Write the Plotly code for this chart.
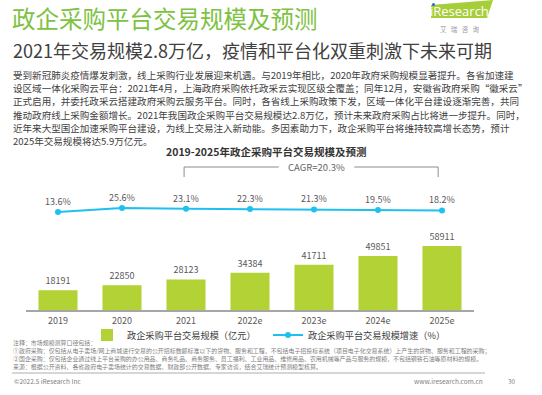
import plotly.graph_objects as go

W, H = 542, 395

# ---------------- data ----------------
years = ["2019", "2020", "2021", "2022e", "2023e", "2024e", "2025e"]
scale_values = [18191, 22850, 28123, 34384, 41711, 49851, 58911]
growth_rates = [13.6, 25.6, 23.1, 22.3, 21.3, 19.5, 18.2]
bar_name = "政企采购平台交易规模（亿元）"
line_name = "政企采购平台交易规模增速（%）"
cagr_text = "CAGR=20.3%"

title_text = "政企采购平台交易规模及预测"
subtitle_text = "2021年交易规模2.8万亿，疫情和平台化双重刺激下未来可期"
chart_title = "2019-2025年政企采购平台交易规模及预测"
body_lines = [
    "受到新冠肺炎疫情爆发刺激，线上采购行业发展迎来机遇。与2019年相比，2020年政府采购规模显著提升。各省加速建",
    "设区域一体化采购云平台：2021年4月，上海政府采购依托政采云实现区级全覆盖；同年12月，安徽省政府采购“徽采云”",
    "正式启用，并委托政采云搭建政府采购云服务平台。同时，各省线上采购政策下发，区域一体化平台建设逐渐完善，共同",
    "推动政府线上采购金额增长。2021年我国政企采购平台交易规模达2.8万亿，预计未来政府采购占比将进一步提升。同时，",
    "近年来大型国企加速采购平台建设，为线上交易注入新动能。多因素助力下，政企采购平台将维持较高增长态势，预计",
    "2025年交易规模将达5.9万亿元。",
]
note_lines = [
    "注释：市场规模测算口径包括：",
    "①政府采购：仅包括从电子卖场/网上商城进行交易的公开招标数额标准以下的货物、服务和工程，不包括电子招投标系统（项目电子化交易系统）上产生的货物、服务和工程的采购；",
    "②国企采购：仅包括企业通过线上平台采购的办公用品、商务礼品、商务服务、员工福利、工业用品、维修用品、农用机械等产品与服务的规模，不包括钢铁石油等原材料的规模。",
    "来源：根据公开资料、各省政府电子卖场统计的交易数据、财政部公开数据、专家访谈，结合艾瑞统计预测模型核算。",
]
footer_left = "©2022.5 iResearch Inc"
footer_right = "www.iresearch.com.cn"
page_no = "30"

FONT = "Noto Sans CJK SC, Noto Sans, sans-serif"
GREEN_TITLE = "#7dc242"
BAR_GREEN = "#b2d235"
LINE_BLUE = "#1fc0ef"


def px(x):
    return x / W


def py(y):
    return 1 - y / H


fig = go.Figure()

fig.add_trace(go.Bar(
    x=years, y=scale_values, name=bar_name,
    marker=dict(color=BAR_GREEN, line=dict(width=0)),
    text=[str(v) for v in scale_values], textposition="outside",
    textfont=dict(size=9, color="#595959", family=FONT),
    cliponaxis=False, yaxis="y",
))
fig.add_trace(go.Scatter(
    x=years, y=growth_rates, name=line_name, yaxis="y2",
    mode="lines+markers+text",
    line=dict(color=LINE_BLUE, width=2),
    marker=dict(color=LINE_BLUE, size=6),
    text=[f"{v}%" for v in growth_rates], textposition="top center",
    textfont=dict(size=9, color="#595959", family=FONT),
    cliponaxis=False,
))

annotations = []
shapes = []

# Title / subtitle
annotations.append(dict(x=px(10), y=py(18), xref="paper", yref="paper", xanchor="left", yanchor="middle",
                        text=title_text, showarrow=False,
                        font=dict(size=23.5, color=GREEN_TITLE, family=FONT)))
annotations.append(dict(x=px(11), y=py(50), xref="paper", yref="paper", xanchor="left", yanchor="middle",
                        text=subtitle_text, showarrow=False,
                        font=dict(size=18, color="#404040", family=FONT)))

# Body text
for i, line in enumerate(body_lines):
    annotations.append(dict(x=px(11), y=py(75 + i * 13.2), xref="paper", yref="paper",
                            xanchor="left", yanchor="middle", text=line, showarrow=False,
                            font=dict(size=9.55, color="#404040", family=FONT)))

# Chart title
annotations.append(dict(x=px(266), y=py(151), xref="paper", yref="paper", xanchor="center", yanchor="middle",
                        text=f"<b>{chart_title}</b>", showarrow=False,
                        font=dict(size=10.5, color="#333333", family=FONT)))

# CAGR bracket
bk = dict(type="line", xref="x", yref="paper", line=dict(color="#8c8c8c", width=1))
shapes.append(dict(bk, x0=1.97, x1=3.45, y0=py(167), y1=py(167)))
shapes.append(dict(bk, x0=4.63, x1=5.94, y0=py(167), y1=py(167)))
shapes.append(dict(bk, x0=1.97, x1=1.97, y0=py(167), y1=py(177)))
shapes.append(dict(bk, x0=5.94, x1=5.94, y0=py(167), y1=py(177)))
annotations.append(dict(x=4.04, y=py(167), xref="x", yref="paper", xanchor="center", yanchor="middle",
                        text=cagr_text, showarrow=False,
                        font=dict(size=9.5, color="#666666", family=FONT)))

# Logo
shapes.append(dict(type="path", xref="paper", yref="paper",
                   path=f"M {px(431)} {py(18)} L {px(431)} {py(5)} L {px(493)} {py(0)} L {px(487)} {py(18)} Z",
                   fillcolor="#a6ce39", line=dict(width=0)))
shapes.append(dict(type="circle", xref="paper", yref="paper",
                   x0=px(432), x1=px(435), y0=py(6), y1=py(3), fillcolor="#1e6fc0", line=dict(width=0)))
annotations.append(dict(x=px(459), y=py(11), xref="paper", yref="paper", xanchor="center", yanchor="middle",
                        text="iResearch", showarrow=False,
                        font=dict(size=13, color="white", family="Open Sans, sans-serif")))
annotations.append(dict(x=px(460), y=py(29), xref="paper", yref="paper", xanchor="center", yanchor="middle",
                        text="艾 &nbsp; 瑞 &nbsp; 咨 &nbsp; 询", showarrow=False,
                        font=dict(size=6.5, color="#9a9a9a", family=FONT)))

# Notes
for i, line in enumerate(note_lines):
    annotations.append(dict(x=px(11), y=py(342 + i * 8.2), xref="paper", yref="paper",
                            xanchor="left", yanchor="middle", text=line, showarrow=False,
                            font=dict(size=5.95, color="#808080", family=FONT)))

# Footer
shapes.append(dict(type="line", xref="paper", yref="paper", x0=px(12), x1=px(485), y0=py(373), y1=py(373),
                   line=dict(color="#c8c8c8", width=1.5)))
annotations.append(dict(x=px(12), y=py(381), xref="paper", yref="paper", xanchor="left", yanchor="middle",
                        text=footer_left, showarrow=False, font=dict(size=6.5, color="#808080", family=FONT)))
annotations.append(dict(x=px(485), y=py(381), xref="paper", yref="paper", xanchor="right", yanchor="middle",
                        text=footer_right, showarrow=False, font=dict(size=6.5, color="#808080", family=FONT)))
annotations.append(dict(x=px(512), y=py(381), xref="paper", yref="paper", xanchor="center", yanchor="middle",
                        text=page_no, showarrow=False, font=dict(size=6.5, color="#808080", family=FONT)))

fig.update_layout(
    width=W, height=H,
    margin=dict(l=0, r=0, t=0, b=0),
    paper_bgcolor="white", plot_bgcolor="white",
    font=dict(family=FONT, color="#404040"),
    bargap=0.39,
    showlegend=True,
    legend=dict(orientation="h", x=px(87), y=py(335), xanchor="left", yanchor="middle",
                font=dict(size=9.2, color="#404040", family=FONT),
                itemwidth=30, entrywidth=136, bgcolor="rgba(0,0,0,0)", traceorder="normal"),
    xaxis=dict(domain=[px(26), px(474)], type="category", showline=True, linecolor="#a6a6a6",
               linewidth=1.5, ticks="", showgrid=False, zeroline=False,
               tickfont=dict(size=9, color="#595959", family=FONT), ticklabelstandoff=1),
    yaxis=dict(domain=[py(310), py(234)], range=[0, 70000], visible=False, showgrid=False),
    yaxis2=dict(domain=[py(215), py(195)], range=[4.6, 64.6], visible=False, showgrid=False, anchor="x"),
    annotations=annotations,
    shapes=shapes,
)

fig.write_html("out.html", config={"displayModeBar": False},
               post_script="document.body.style.margin='0';document.body.style.overflow='hidden';")
